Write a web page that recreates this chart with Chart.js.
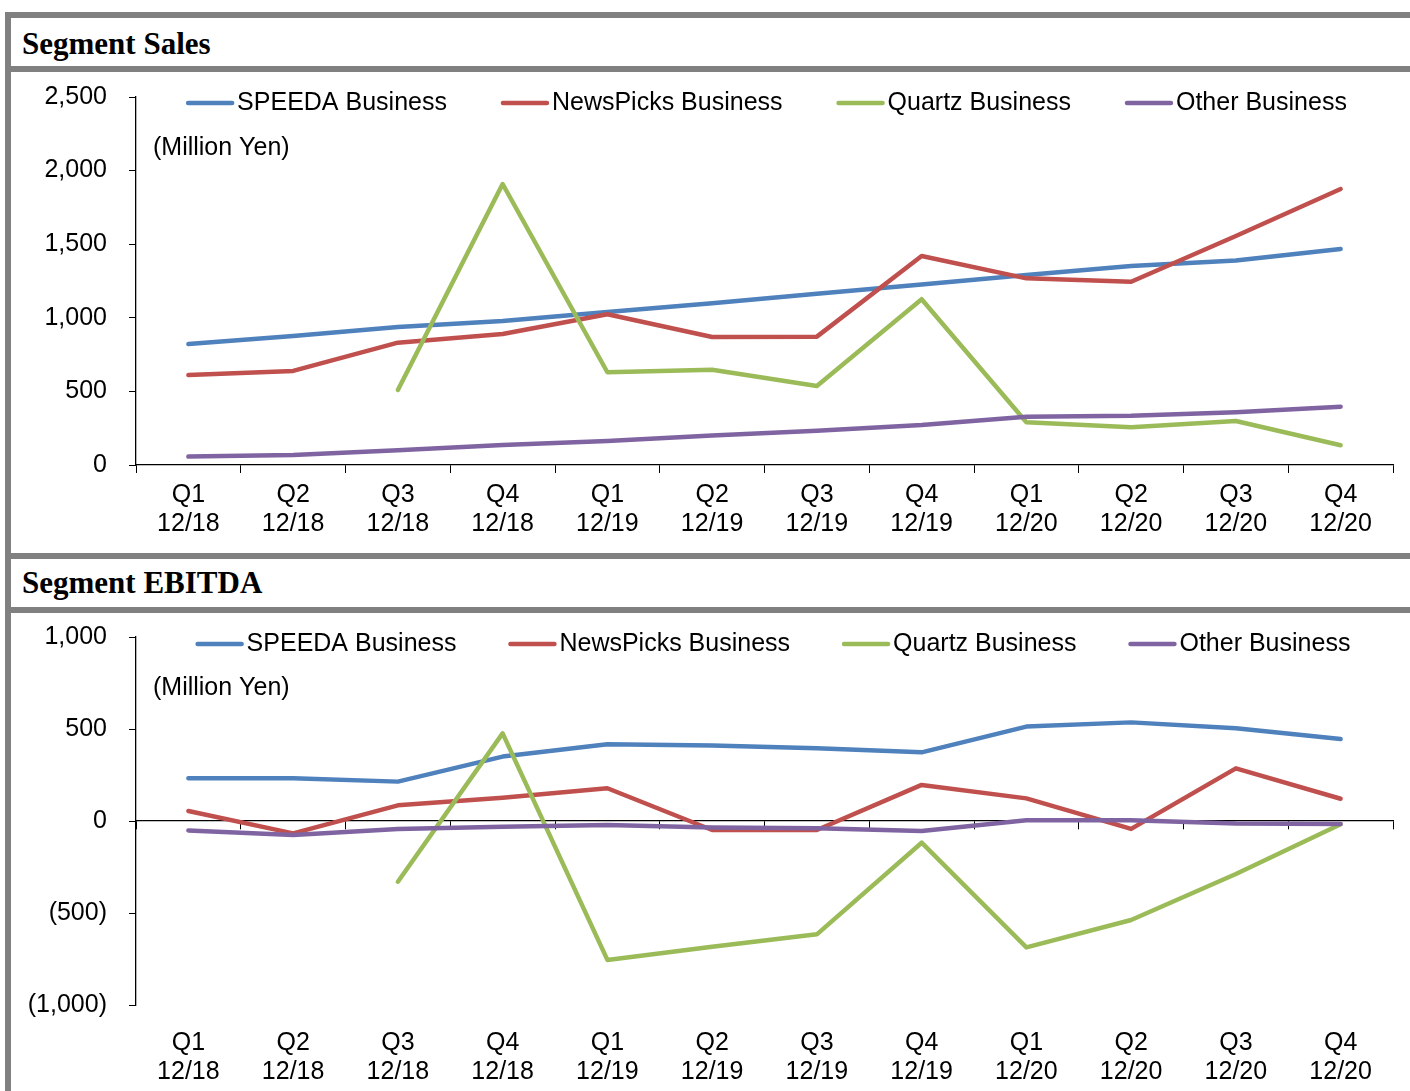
<!DOCTYPE html>
<html>
<head>
<meta charset="utf-8">
<script src="https://cdn.jsdelivr.net/npm/chart.js@4.4.1/dist/chart.umd.min.js"></script>
<style>
html, body { margin: 0; padding: 0; background: #fff; }
body { width: 1410px; height: 1091px; position: relative; overflow: hidden; }
.bar { position: absolute; background: #808080; }
.head { position: absolute; left: 22px; font: bold 31px "Liberation Serif", serif; color: #000; line-height: 1; white-space: nowrap; }
.box { position: absolute; left: 11px; width: 1399px; }
</style>
</head>
<body>
<div class="bar" style="left:5px;top:12px;width:1405px;height:6px"></div>
<div class="bar" style="left:5px;top:12px;width:6px;height:1079px"></div>
<div class="bar" style="left:5px;top:66px;width:1405px;height:6px"></div>
<div class="bar" style="left:5px;top:553px;width:1405px;height:6px"></div>
<div class="bar" style="left:5px;top:607px;width:1405px;height:6px"></div>
<div class="head" style="top:28px">Segment Sales</div>
<div class="head" style="top:567px">Segment EBITDA</div>
<div class="box" style="top:72px;height:481px"><canvas id="sales"></canvas></div>
<div class="box" style="top:613px;height:478px"><canvas id="ebitda"></canvas></div>

<script>
// categories
var quarters = ["Q1", "Q2", "Q3", "Q4", "Q1", "Q2", "Q3", "Q4", "Q1", "Q2", "Q3", "Q4"];
var periods = ["12/18", "12/18", "12/18", "12/18", "12/19", "12/19", "12/19", "12/19", "12/20", "12/20", "12/20", "12/20"];
var seriesNames = ["SPEEDA Business", "NewsPicks Business", "Quartz Business", "Other Business"];
var unitLabel = "(Million Yen)";

// Segment Sales (million yen)
var salesSpeeda = [822, 877, 938, 979, 1040, 1099, 1164, 1227, 1291, 1352, 1390, 1467];
var salesNewsPicks = [611, 639, 831, 890, 1024, 870, 872, 1420, 1268, 1245, 1556, 1875];
var salesQuartz = [null, null, 510, 1909, 630, 647, 537, 1126, 290, 256, 299, 134];
var salesOther = [57, 68, 100, 136, 163, 200, 233, 272, 328, 335, 358, 396];

// Segment EBITDA (million yen)
var ebitdaSpeeda = [232, 232, 214, 350, 417, 410, 395, 373, 513, 536, 504, 446];
var ebitdaNewsPicks = [54, -67, 85, 127, 178, -49, -49, 196, 123, -43, 286, 121];
var ebitdaQuartz = [null, null, -330, 476, -755, -683, -616, -118, -687, -538, -288, -18];
var ebitdaOther = [-51, -76, -43, -31, -22, -36, -40, -54, 4, 4, -13, -16];

// y axis ticks
var salesTicks = [0, 500, 1000, 1500, 2000, 2500];
var salesTickLabels = ["0", "500", "1,000", "1,500", "2,000", "2,500"];
var ebitdaTicks = [-1000, -500, 0, 500, 1000];
var ebitdaTickLabels = ["(1,000)", "(500)", "0", "500", "1,000"];

var colors = ["#4F81BD", "#C0504D", "#9BBB59", "#8064A2"];
var FONT = "\"Liberation Sans\", Arial, sans-serif";

// excel style legend + unit note drawn inside the plot area
var lineLegend = {
    id: "lineLegend",
    afterDraw: function(chart)
    {
        var o = chart.options.plugins.lineLegend;
        var ctx = chart.ctx, area = chart.chartArea;
        var sets = chart.data.datasets;
        ctx.save();
        ctx.font = "25px " + FONT;
        ctx.textBaseline = "middle";
        ctx.textAlign = "left";
        ctx.fillStyle = "#000";
        var widths = sets.map(function(d) { return 48 + 3 + ctx.measureText(d.label).width; });
        var total = widths.reduce(function(a, b) { return a + b; }, 0) + o.gap * (sets.length - 1);
        var x = (area.left + area.right) / 2 + o.dx - total / 2;
        var y = area.top + o.dy;
        sets.forEach(function(d, i)
        {
            ctx.strokeStyle = d.borderColor;
            ctx.lineWidth = 4.5;
            ctx.lineCap = "round";
            ctx.beginPath();
            ctx.moveTo(x + 2, y);
            ctx.lineTo(x + 46, y);
            ctx.stroke();
            ctx.fillText(d.label, x + 51, y);
            x += widths[i] + o.gap;
        });
        ctx.fillText(unitLabel, area.left + 17, area.top + 51);
        ctx.restore();
    }
};

function noPad(s)
{
    s.paddingTop = 0;
    s.paddingBottom = 0;
    s.paddingLeft = 0;
    s.paddingRight = 0;
}

function makeChart(id, series, ticks, tickLabels, cfg)
{
    var labels = quarters.map(function(q, i) { return [q, periods[i]]; });
    var datasets = series.map(function(values, i)
    {
        return {
            label: seriesNames[i],
            data: values,
            borderColor: colors[i],
            backgroundColor: colors[i],
            borderWidth: 4.5,
            pointRadius: 0,
            tension: 0,
            spanGaps: false,
            borderCapStyle: "round",
            borderJoinStyle: "round",
            order: series.length - i
        };
    });

    var scales = {
        y: {
            min: ticks[0],
            max: ticks[ticks.length - 1],
            afterBuildTicks: function(s) { s.ticks = ticks.map(function(v) { return {value: v}; }); },
            afterFit: function(s) { s.width = 125; noPad(s); },
            ticks: {
                callback: function(v) { return tickLabels[ticks.indexOf(v)]; },
                font: {family: FONT, size: 25},
                color: "#000",
                padding: 22
            },
            grid: {drawOnChartArea: false, tickLength: 7, color: "#000", lineWidth: 1},
            border: {color: "#000", width: 1.3}
        },
        x: {
            offset: true,
            afterFit: function(s) { s.height = cfg.xHeight; noPad(s); },
            ticks: {
                font: {family: FONT, size: 25, lineHeight: 1.16},
                color: "#000",
                padding: cfg.xPad,
                maxRotation: 0,
                autoSkip: false
            },
            grid: cfg.zeroAxis
                ? {display: false}
                : {offset: true, drawOnChartArea: false, tickLength: 8, color: "#000", lineWidth: 1},
            border: cfg.zeroAxis ? {display: false} : {color: "#000", width: 1.3}
        }
    };

    if (cfg.zeroAxis)
    {
        // axis line crossing at zero, labels stay at the bottom
        scales.x2 = {
            type: "category",
            position: {y: 0},
            offset: true,
            afterFit: noPad,
            ticks: {display: false},
            grid: {offset: true, drawOnChartArea: false, tickLength: 8, color: "#000", lineWidth: 1},
            border: {color: "#000", width: 1.3}
        };
    }

    return new Chart(document.getElementById(id), {
        type: "line",
        data: {labels: labels, datasets: datasets},
        plugins: [lineLegend],
        options: {
            responsive: true,
            maintainAspectRatio: false,
            animation: false,
            devicePixelRatio: 1,
            layout: {padding: {top: cfg.padTop, right: 17, left: 0, bottom: 0}},
            plugins: {
                legend: {display: false},
                tooltip: {enabled: false},
                lineLegend: cfg.legend
            },
            scales: scales
        }
    });
}

makeChart("sales", [salesSpeeda, salesNewsPicks, salesQuartz, salesOther], salesTicks, salesTickLabels,
    {padTop: 25, xHeight: 88, xPad: 8, zeroAxis: false, legend: {dx: 2, dy: 6, gap: 54}});

makeChart("ebitda", [ebitdaSpeeda, ebitdaNewsPicks, ebitdaQuartz, ebitdaOther], ebitdaTicks, ebitdaTickLabels,
    {padTop: 24, xHeight: 86, xPad: 16, zeroAxis: true, legend: {dx: 8.5, dy: 7, gap: 52}});
</script>
</body>
</html>
